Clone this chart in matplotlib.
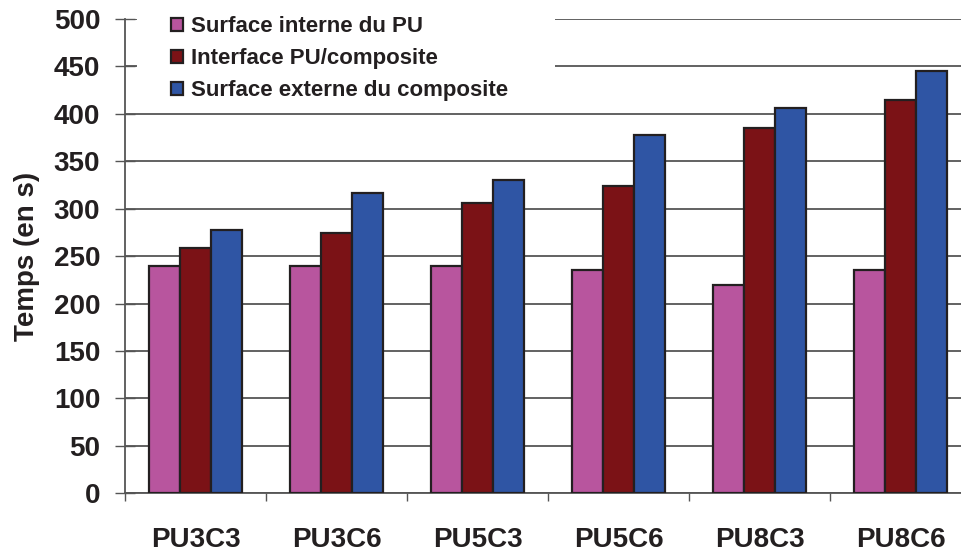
import numpy as np
import matplotlib.pyplot as plt
from matplotlib.patches import Rectangle

plt.rcParams['font.family'] = ['Liberation Sans', 'DejaVu Sans']
plt.rcParams['font.weight'] = 'bold'

echantillons = ['PU3C3', 'PU3C6', 'PU5C3', 'PU5C6', 'PU8C3', 'PU8C6']
surface_interne = [240, 240, 240, 235, 220, 235]
interface = [259, 274, 306, 324, 385, 415]
surface_externe = [278, 317, 330, 378, 406, 445]
series = ['Surface interne du PU', 'Interface PU/composite',
          'Surface externe du composite']
couleurs = ['#B8559E', '#7B1216', '#2F55A4']

W, H = 961, 551
fig = plt.figure(figsize=(W/100, H/100), dpi=100)
ax = fig.add_axes([125/W, 57.7/H, 846/W, 474.3/H])

x = np.arange(len(echantillons))
w = 0.22
for k, (vals, nom, c) in enumerate(zip([surface_interne, interface, surface_externe],
                                       series, couleurs)):
    ax.bar(x + (k - 1)*w, vals, w, color=c, edgecolor='#231F20', linewidth=1.6,
           label=nom, zorder=3)

ax.set_xlim(-0.5, len(echantillons) - 0.5)
ax.set_ylim(0, 500)
ax.set_yticks(np.arange(0, 501, 50))
ax.yaxis.grid(True, color='#555555', linewidth=1.3, zorder=0)
ax.set_axisbelow(True)

# ticks between groups, labels centred under each group
ax.set_xticks(np.arange(len(echantillons) + 1) - 0.5)
ax.set_xticklabels([])
ax.set_xticks(x, minor=True)
ax.set_xticklabels(echantillons, minor=True, fontsize=20, fontweight='bold',
                   color='#231F20')
ax.tick_params(axis='x', which='minor', length=0, pad=24)
ax.tick_params(axis='x', which='major', length=6, width=1, color='#555555')
ax.tick_params(axis='y', length=13.7, width=1, color='#555555', direction='inout',
               labelsize=20, labelcolor='#231F20', pad=11)
for t in ax.get_yticklabels():
    t.set_fontweight('bold')

for s in ['top', 'right']:
    ax.spines[s].set_visible(False)
for s in ['left', 'bottom']:
    ax.spines[s].set_color('#555555')
    ax.spines[s].set_linewidth(1.3)

ax.set_ylabel('Temps (en s)', fontsize=20, fontweight='bold', color='#231F20',
              labelpad=10)

# white block behind the legend hides the top gridlines
ax.add_patch(Rectangle((137/W, 1 - 105/H), (555 - 137)/W, 105/H,
                       transform=fig.transFigure, facecolor='white',
                       edgecolor='none', zorder=2, clip_on=False))

leg = ax.legend(loc='upper left', bbox_to_anchor=(160/W, 1 - 5/H),
                bbox_transform=fig.transFigure, borderaxespad=0, frameon=False,
                prop={'size': 16, 'weight': 'bold'}, labelcolor='#231F20',
                handlelength=0.55, handleheight=0.55, handletextpad=0.35,
                labelspacing=0.5, borderpad=0.5)
leg.set_zorder(5)

fig.savefig('out.png', dpi=100)
